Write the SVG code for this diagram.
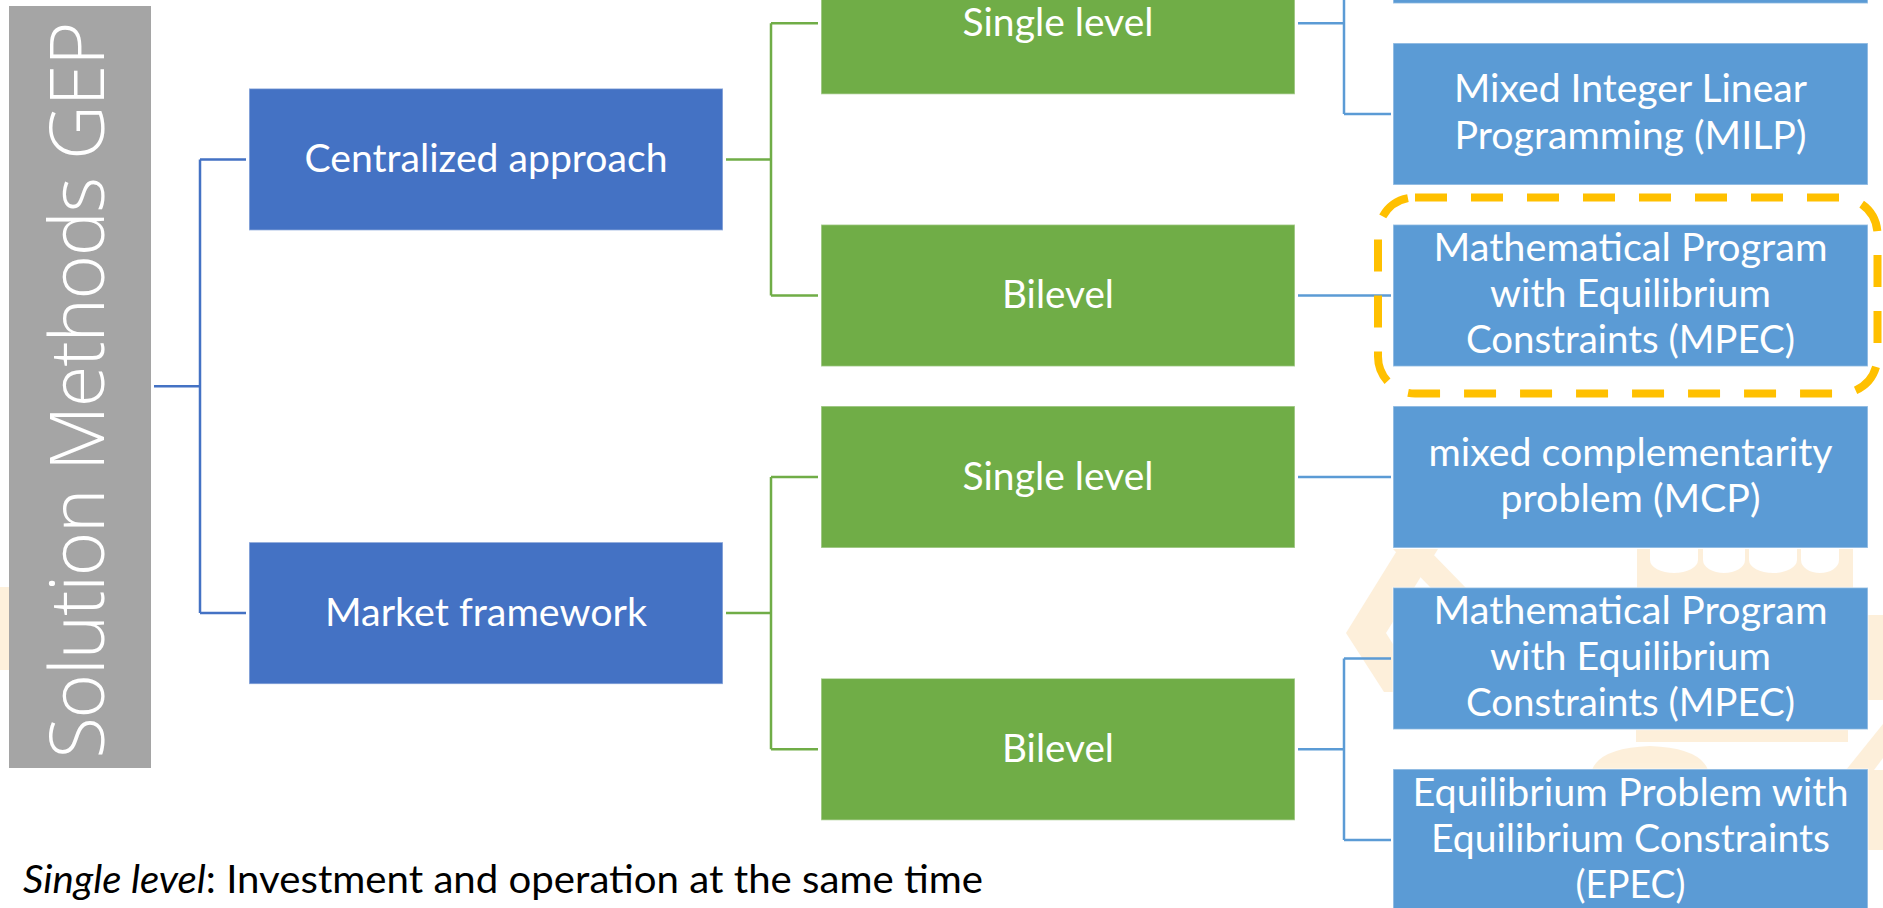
<svg xmlns="http://www.w3.org/2000/svg" width="1883" height="908" viewBox="0 0 1883 908">
  <defs>
    <style>
      .lbl { font-family: Lato, "Liberation Sans", sans-serif; font-size: 38px; fill: #ffffff; text-anchor: middle; }
      .node rect { stroke: #ffffff; stroke-opacity: 0.45; stroke-width: 1.5; }
      .l1 rect { fill: #4472C4; }
      .l2 rect { fill: #70AD47; }
      .l3 rect { fill: #5B9BD5; }
      #connectors path { fill: none; stroke-width: 2.5; }
      .c1 { stroke: #4472C4; }
      .c2 { stroke: #70AD47; }
      .c3 { stroke: #5B9BD5; }
      .wm { fill: #F7B24A; opacity: 0.2; }
      .title { font-family: "Open Sans", Lato, sans-serif; font-weight: 300; font-size: 76px; fill: #ffffff; text-anchor: middle; }
      .note { font-family: Lato, "Liberation Sans", sans-serif; font-size: 38px; fill: #000000; }
    </style>
  </defs>

  <rect width="1883" height="908" fill="#ffffff"/>

  <!-- faint background emblem -->
  <g id="watermark" class="wm">
    <rect x="0" y="587" width="9" height="83"/>
    <polygon points="1398,549 1438,549 1386,633 1423,692 1384,692 1346,633"/>
    <polygon points="1393,549 1428,549 1466,588 1431,588"/>
    <path fill-rule="evenodd" d="M1637,549 H1853 V588 H1637 Z M1650,549 V560 A24,13 0 0 0 1698,560 V549 Z M1703,549 V560 A21,13 0 0 0 1745,560 V549 Z M1749,549 V560 A24,13 0 0 0 1797,560 V549 Z M1801,549 V560 A19,13 0 0 0 1839,560 V549 Z"/>
    <rect x="1636" y="730" width="212" height="12"/>
    <path d="M1592,770 Q1600,748 1650,746 Q1700,748 1708,770 Z"/>
    <polygon points="1846,770 1883,724 1883,758 1874,770"/>
    <rect x="1868" y="615" width="15" height="85"/>
    <rect x="1868" y="770" width="15" height="80"/>
  </g>

  <!-- root -->
  <g id="root">
    <rect x="9" y="6" width="142" height="762" fill="#A5A5A5"/>
    <text class="title" transform="translate(104,390) rotate(-90)" textLength="737" lengthAdjust="spacing">Solution Methods GEP</text>
  </g>

  <!-- tree connectors -->
  <g id="connectors">
    <path class="c1" d="M154,386.3 H200 M200,159.4 V613.1 M200,159.4 H246 M200,613.1 H246"/>
    <path class="c2" d="M726,159.4 H771 M771,23.3 V295.5 M771,23.3 H818 M771,295.5 H818"/>
    <path class="c2" d="M726,613.1 H771 M771,477 V749.3 M771,477 H818 M771,749.3 H818"/>
    <path class="c3" d="M1298,23.3 H1344 M1344,-10 V114 M1344,114 H1391"/>
    <path class="c3" d="M1298,295.5 H1391"/>
    <path class="c3" d="M1298,477 H1391"/>
    <path class="c3" d="M1298,749.3 H1344 M1344,658.5 V840 M1344,658.5 H1391 M1344,840 H1391"/>
  </g>

  <!-- level 1 -->
  <g id="centralized" class="node l1">
    <rect x="249" y="88.4" width="474" height="142"/>
    <text class="lbl" x="486" y="172" textLength="363" lengthAdjust="spacingAndGlyphs">Centralized approach</text>
  </g>
  <g id="market" class="node l1">
    <rect x="249" y="542.1" width="474" height="142"/>
    <text class="lbl" x="486" y="626" textLength="322" lengthAdjust="spacingAndGlyphs">Market framework</text>
  </g>

  <!-- level 2 -->
  <g id="central-single" class="node l2">
    <rect x="821" y="-47.7" width="474" height="142"/>
    <text class="lbl" x="1058" y="36" textLength="191" lengthAdjust="spacingAndGlyphs">Single level</text>
  </g>
  <g id="central-bilevel" class="node l2">
    <rect x="821" y="224.5" width="474" height="142"/>
    <text class="lbl" x="1058" y="308" textLength="112" lengthAdjust="spacingAndGlyphs">Bilevel</text>
  </g>
  <g id="market-single" class="node l2">
    <rect x="821" y="406" width="474" height="142"/>
    <text class="lbl" x="1058" y="490" textLength="191" lengthAdjust="spacingAndGlyphs">Single level</text>
  </g>
  <g id="market-bilevel" class="node l2">
    <rect x="821" y="678.3" width="474" height="142"/>
    <text class="lbl" x="1058" y="762" textLength="112" lengthAdjust="spacingAndGlyphs">Bilevel</text>
  </g>

  <!-- level 3 -->
  <g id="central-single-top" class="node l3">
    <rect x="1393" y="-138.5" width="475" height="142"/>
  </g>
  <g id="milp" class="node l3">
    <rect x="1393" y="43" width="475" height="142"/>
    <text class="lbl" x="1630.5" y="102" textLength="353" lengthAdjust="spacingAndGlyphs">Mixed Integer Linear</text>
    <text class="lbl" x="1630.5" y="149" textLength="352" lengthAdjust="spacingAndGlyphs">Programming (MILP)</text>
  </g>
  <g id="mpec-central" class="node l3">
    <rect x="1393" y="224.5" width="475" height="142"/>
    <text class="lbl" x="1630.5" y="261" textLength="394" lengthAdjust="spacingAndGlyphs">Mathematical Program</text>
    <text class="lbl" x="1630.5" y="307" textLength="281" lengthAdjust="spacingAndGlyphs">with Equilibrium</text>
    <text class="lbl" x="1630.5" y="353" textLength="329" lengthAdjust="spacingAndGlyphs">Constraints (MPEC)</text>
  </g>
  <g id="mcp" class="node l3">
    <rect x="1393" y="406" width="475" height="142"/>
    <text class="lbl" x="1630.5" y="466" textLength="404" lengthAdjust="spacingAndGlyphs">mixed complementarity</text>
    <text class="lbl" x="1630.5" y="512" textLength="260" lengthAdjust="spacingAndGlyphs">problem (MCP)</text>
  </g>
  <g id="mpec-market" class="node l3">
    <rect x="1393" y="587.5" width="475" height="142"/>
    <text class="lbl" x="1630.5" y="624" textLength="394" lengthAdjust="spacingAndGlyphs">Mathematical Program</text>
    <text class="lbl" x="1630.5" y="670" textLength="281" lengthAdjust="spacingAndGlyphs">with Equilibrium</text>
    <text class="lbl" x="1630.5" y="716" textLength="329" lengthAdjust="spacingAndGlyphs">Constraints (MPEC)</text>
  </g>
  <g id="epec" class="node l3">
    <rect x="1393" y="769" width="475" height="142"/>
    <text class="lbl" x="1630.5" y="805.5" textLength="436" lengthAdjust="spacingAndGlyphs">Equilibrium Problem with</text>
    <text class="lbl" x="1630.5" y="851.5" textLength="399" lengthAdjust="spacingAndGlyphs">Equilibrium Constraints</text>
    <text class="lbl" x="1630.5" y="897.5" textLength="110" lengthAdjust="spacingAndGlyphs">(EPEC)</text>
  </g>

  <!-- highlight around the centralized bilevel method -->
  <rect id="highlight" x="1378" y="197.5" width="499.5" height="196" rx="37" fill="none" stroke="#FFC000" stroke-width="8" stroke-dasharray="32 24"/>

  <!-- footnote -->
  <text id="note" class="note" x="23" y="893" textLength="960" lengthAdjust="spacingAndGlyphs"><tspan font-style="italic">Single level</tspan>: Investment and operation at the same time</text>
</svg>
